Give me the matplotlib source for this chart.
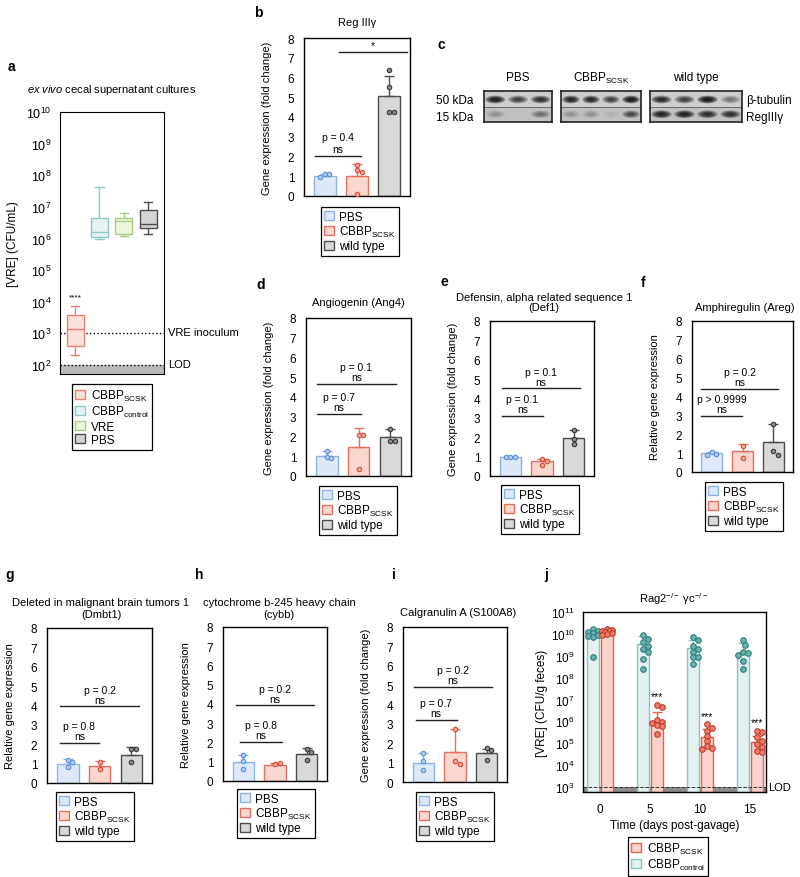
import numpy as np
import matplotlib
matplotlib.use('Agg')
import matplotlib.pyplot as plt
from matplotlib.patches import Patch, Ellipse, Rectangle
from matplotlib.ticker import NullLocator

plt.rcParams['font.family'] = ['Liberation Sans', 'DejaVu Sans']
plt.rcParams['mathtext.fontset'] = 'custom'
plt.rcParams['mathtext.rm'] = 'Liberation Sans'
plt.rcParams['mathtext.it'] = 'Liberation Sans:italic'
plt.rcParams['mathtext.bf'] = 'Liberation Sans:bold'
plt.rcParams['mathtext.sf'] = 'Liberation Sans'

# ------------------------------------------------------------------ data
SCSK = 'CBBP$_{\\mathrm{SCSK}}$'
CTRL = 'CBBP$_{\\mathrm{control}}$'
groups = ['PBS', SCSK, 'wild type']

# panel a (box plot, CFU/mL)
a_labels = [SCSK, CTRL, 'VRE', 'PBS']
a_median = [1.35e3, 1.6e6, 3.5e6, 2.9e6]
a_q1 = [4.0e2, 1.15e6, 1.4e6, 2.1e6]
a_q3 = [3.7e3, 4.6e6, 4.6e6, 7.8e6]
a_whislo = [2.1e2, 1.0e6, 1.2e6, 1.4e6]
a_whishi = [7.4e3, 4.4e7, 6.2e6, 1.4e7]
a_inoculum = 1e3
a_lod = 1e2
a_star_y = 1.4e4

# panel b  Reg IIIγ
b_mean = [1.0, 1.03, 5.05]
b_top = [1.1, 1.6, 6.1]
b_pbs = [1.1, 1.1, 0.95]
b_scsk = [1.55, 1.3, 1.2, 0.1]
b_wt = [6.4, 5.5, 4.25, 4.25]
b_sig_y = [2.04, 7.3]
b_sig_txt = ['p = 0.4\nns', '*']

# panel c  western blot band intensities (0..1)
c_tub_pbs = [0.9, 0.6, 0.75]
c_reg_pbs = [0.15, 0.0, 0.3]
c_tub_scsk = [0.85, 0.8, 0.6, 0.95]
c_reg_scsk = [0.15, 0.15, 0.05, 0.5]
c_tub_wt = [0.8, 0.6, 0.95, 0.3]
c_reg_wt = [0.85, 0.85, 0.75, 0.7]

# panel d  Ang4
d_mean = [1.0, 1.47, 1.95]
d_top = [1.25, 2.45, 2.36]
d_pbs = [1.25, 0.96, 0.93]
d_scsk = [2.1, 2.1, 0.37]
d_wt = [2.36, 1.78, 1.78]
d_sig_y = [4.66, 3.14]
d_sig_txt = ['p = 0.1\nns', 'p = 0.7\nns']

# panel e  Def1
e_mean = [0.98, 0.75, 1.96]
e_top = [1.02, 0.88, 2.35]
e_pbs = [1.0, 0.99, 0.98]
e_scsk = [0.86, 0.8, 0.55]
e_wt = [2.35, 1.93, 1.65]
e_sig_y = [4.53, 3.12]
e_sig_txt = ['p = 0.1\nns', 'p = 0.1\nns']

# panel f  Areg
f_mean = [1.0, 1.1, 1.6]
f_top = [1.05, 1.5, 2.55]
f_pbs = [1.08, 0.98, 0.88]
f_scsk = [1.4, 0.75]
f_wt = [2.55, 1.12, 0.92]
f_sig_y = [4.41, 2.96]
f_sig_txt = ['p = 0.2\nns', 'p > 0.9999\nns']

# panel g  Dmbt1
g_mean = [0.98, 0.86, 1.47]
g_top = [1.22, 1.16, 1.84]
g_pbs = [1.21, 1.1, 0.81]
g_scsk = [1.07, 0.72]
g_wt = [1.78, 1.74, 1.07]
g_sig_y = [3.95, 2.07]
g_sig_txt = ['p = 0.2\nns', 'p = 0.8\nns']

# panel h  cybb
h_mean = [0.99, 0.85, 1.39]
h_top = [1.35, 0.93, 1.73]
h_pbs = [1.33, 1.02, 0.64]
h_scsk = [0.88, 0.93]
h_wt = [1.68, 1.5, 1.07]
h_sig_y = [3.93, 2.03]
h_sig_txt = ['p = 0.2\nns', 'p = 0.8\nns']

# panel i  S100A8
i_mean = [0.99, 1.54, 1.5]
i_top = [1.5, 2.74, 1.72]
i_pbs = [1.5, 1.06, 0.6]
i_scsk = [2.74, 1.06, 0.94]
i_wt = [1.76, 1.63, 1.11]
i_sig_y = [4.92, 3.22]
i_sig_txt = ['p = 0.2\nns', 'p = 0.7\nns']

# panel j  (CFU/g feces)
j_days = [0, 5, 10, 15]
j_ctrl_bar = [1.0e10, 3.5e9, 2.2e9, 1.3e9]
j_ctrl_err = [1.4e10, 8e9, 5.5e9, 4e9]
j_scsk_bar = [1.25e10, 9e5, 2e5, 1.1e5]
j_scsk_err = [1.5e10, 2.8e6, 4.5e5, 2.2e5]
j_ctrl_d0 = [1.6e10, 1.4e10, 1.2e10, 1.1e10, 9e9, 8e9, 7e9, 8.7e8]
j_ctrl_d5 = [9e9, 6e9, 4.2e9, 2.8e9, 2.1e9, 1.5e9, 7e8, 2.5e8]
j_ctrl_d10 = [7e9, 5e9, 2.8e9, 2.1e9, 1.5e9, 9e8, 8.5e8, 4e8]
j_ctrl_d15 = [5e9, 3.2e9, 1.5e9, 1.3e9, 1.1e9, 6e8, 2.5e8]
j_scsk_d0 = [1.6e10, 1.5e10, 1.4e10, 1.3e10, 1.2e10, 1.1e10, 1e10, 9e9]
j_scsk_d5 = [5.5e6, 4.5e6, 1.1e6, 9e5, 8e5, 7e5, 6e5, 2.6e5]
j_scsk_d10 = [7.5e5, 5.2e5, 3.7e5, 2.2e5, 1.3e5, 7.5e4, 6e4, 5.5e4]
j_scsk_d15 = [3.7e5, 3.3e5, 1.9e5, 1.3e5, 9e4, 7e4, 4.5e4, 3.8e4]
j_star_y = [None, 1.5e7, 1.8e6, 9e5]
j_lod = 1e3

# ------------------------------------------------------------------ styles
PBS_C = dict(face='#dde9f9', edge='#8db3e6', dot='#b3cdf1', dotedge='#5d8fd9')
SCSK_C = dict(face='#f9d7cf', edge='#e2705f', dot='#f4a797', dotedge='#d44e3a')
WT_C = dict(face='#d9d9d9', edge='#4d4d4d', dot='#8c8c8c', dotedge='#3a3a3a')
CTRL_A = dict(face='#e5f3f3', edge='#8ccaca')
VRE_A = dict(face='#eef6e2', edge='#a9cc7e')
SCSK_A = dict(face='#fbe1db', edge='#e8806f')
PBS_A = dict(face='#d5d5d5', edge='#4d4d4d')
J_CTRL = dict(face='#e3f1f1', edge='#8cc3c3', dot='#69b3ae', dotedge='#2f7f7a')
J_SCSK = dict(face='#f7d3cb', edge='#e8604f', dot='#ef7f6c', dotedge='#bf3a2a')

W, H = 800, 878
fig = plt.figure(figsize=(W / 100, H / 100), dpi=100)


def add_ax(x0, y0, x1, y1):
    return fig.add_axes([x0 / W, 1 - y1 / H, (x1 - x0) / W, (y1 - y0) / H])


def ftext(x, y, s, **kw):
    return fig.text(x / W, 1 - y / H, s, **kw)


def letter(x, y, s):
    ftext(x, y, s, fontsize=10, fontweight='bold', ha='left', va='center')


def swarm(ypix, d, max_off):
    """deterministic beeswarm offsets (pixels), limited to +-max_off"""
    placed, offs = [], []
    cands = [0.0]
    k = 1
    while k * d * 0.5 <= max_off + 1e-9:
        cands += [k * d * 0.5, -k * d * 0.5]
        k += 1
    for v in ypix:
        best, best_dist = 0.0, -1
        for c in cands:
            md = min([np.hypot(c - px, v - py) for px, py in placed] + [1e9])
            if md >= d:
                best = c
                break
            if md > best_dist:
                best, best_dist = c, md
        placed.append((best, v))
        offs.append(best)
    return np.array(offs)


def make_legend(ax, handles, labels, cx, top, fs=8.5):
    leg = ax.legend(handles, labels, loc='upper center',
                    bbox_to_anchor=(cx / W, 1 - top / H), bbox_transform=fig.transFigure,
                    fontsize=fs, handlelength=0.8, handleheight=0.8, handletextpad=0.5,
                    labelspacing=0.12, borderpad=0.3, borderaxespad=0, fancybox=False,
                    framealpha=1, edgecolor='black')
    leg.get_frame().set_linewidth(0.9)
    return leg


def bar_panel(box, means, tops, pts, sig_y, sig_txt, spans, ylabel, leg_xy, lsp=1.0):
    ax = add_ax(*box)
    xs = np.arange(3)
    cols = [PBS_C, SCSK_C, WT_C]
    wpx = box[2] - box[0]
    hpx = box[3] - box[1]
    xlim = (-0.65, 2.65)
    px_per_x = wpx / (xlim[1] - xlim[0])
    px_per_y = hpx / 8.0
    for k in range(3):
        c = cols[k]
        ax.bar(xs[k], means[k], width=0.68, color=c['face'], edgecolor=c['edge'], lw=1.0, zorder=2)
        ax.errorbar(xs[k], means[k], yerr=[[0], [tops[k] - means[k]]], fmt='none',
                    ecolor=c['edge'], elinewidth=1.0, capsize=3.5, capthick=1.0, zorder=3)
        yp = np.asarray(pts[k]) * px_per_y
        off = swarm(yp, 4.6, 7.0) / px_per_x
        ax.plot(xs[k] + off, pts[k], 'o', ms=3.2, mfc=c['dot'], mec=c['dotedge'], mew=0.8,
                ls='none', zorder=4)
    for (x0, x1), y, t in zip(spans, sig_y, sig_txt):
        ax.plot([x0, x1], [y, y], color='#222222', lw=1.0, zorder=3)
        ax.annotate(t, ((x0 + x1) / 2, y), xytext=(0, 1.2), textcoords='offset points',
                    ha='center', va='bottom', fontsize=7.5, linespacing=lsp)
    ax.set_xlim(*xlim)
    ax.set_ylim(0, 8)
    ax.set_yticks(range(9))
    ax.set_xticks([])
    ax.tick_params(axis='y', length=0, pad=7, labelsize=8.5)
    for sp in ax.spines.values():
        sp.set_linewidth(1.0)
    ax.set_ylabel(ylabel, fontsize=8)
    ax.yaxis.set_label_coords(-32 / wpx, 0.5)
    handles = [Patch(facecolor=c['face'], edgecolor=c['edge'], lw=1.0) for c in cols]
    make_legend(ax, handles, groups, *leg_xy)
    return ax


# ------------------------------------------------------------------ panel a
axa = add_ax(60, 113, 164, 375)
stats = []
for k in range(4):
    stats.append(dict(med=a_median[k], q1=a_q1[k], q3=a_q3[k],
                      whislo=a_whislo[k], whishi=a_whishi[k], fliers=[], label=a_labels[k]))
acols = [SCSK_A, CTRL_A, VRE_A, PBS_A]
bp = axa.bxp(stats, positions=[1, 2, 3, 4], widths=0.7, patch_artist=True, showfliers=False,
             manage_ticks=False)
for k, c in enumerate(acols):
    bp['boxes'][k].set(facecolor=c['face'], edgecolor=c['edge'], lw=1.0, zorder=3)
    bp['medians'][k].set(color=c['edge'], lw=1.0, zorder=4)
    for w in bp['whiskers'][2 * k:2 * k + 2]:
        w.set(color=c['edge'], lw=1.0)
    for cp in bp['caps'][2 * k:2 * k + 2]:
        cp.set(color=c['edge'], lw=1.0)
axa.set_yscale('log')
axa.set_ylim(52, 1e10)
axa.set_xlim(0.38, 4.65)
axa.axhspan(52, a_lod, color='#b9b9b9', zorder=1, lw=0)
axa.axhline(a_lod, color='black', ls=':', lw=1.0, zorder=2)
axa.axhline(a_inoculum, color='black', ls=':', lw=1.0, zorder=2)
axa.set_yticks([10.0 ** k for k in range(2, 11)])
axa.yaxis.set_minor_locator(NullLocator())
axa.set_xticks([])
axa.tick_params(axis='y', length=0, pad=6, labelsize=9)
axa.set_ylabel('[VRE] (CFU/mL)', fontsize=8.5)
axa.yaxis.set_label_coords(-41 / 104, 0.5)
axa.text(1, a_star_y, '****', ha='center', va='center', fontsize=6)
ftext(168, 333, 'VRE inoculum', fontsize=8, va='center')
ftext(168, 365, 'LOD', fontsize=8, va='center')
ftext(112, 90, '$\\mathit{ex\\ vivo}$ cecal supernatant cultures', fontsize=8, ha='center', va='center')
make_legend(axa, [Patch(facecolor=c['face'], edgecolor=c['edge'], lw=1.0) for c in acols],
            a_labels, 112, 385)
letter(8, 67, 'a')

# ------------------------------------------------------------------ panel b
bar_panel((304, 39, 410, 197), b_mean, b_top, [b_pbs, b_scsk, b_wt], b_sig_y, b_sig_txt,
          [(-0.3, 1.13), (0.44, 2.55)], 'Gene expression (fold change)', (360, 208), lsp=1.25)
ftext(357, 23, 'Reg IIIγ', fontsize=8, ha='center', va='center')
letter(254, 13, 'b')


# ------------------------------------------------------------------ panel c (blot)
def blot(box, tub, reg):
    ax = add_ax(*box)
    n = len(tub)
    ax.set_xlim(0, n)
    ax.set_ylim(0, 2)
    ax.add_patch(Rectangle((0, 1), n, 1, color='#cdcdcd', zorder=0, lw=0))
    ax.add_patch(Rectangle((0, 0), n, 1, color='#c0c0c0', zorder=0, lw=0))
    ax.axhline(1, color='#6b6b6b', lw=0.7)
    for row_y, vals in ((1.45, tub), (0.5, reg)):
        for k, v in enumerate(vals):
            if v <= 0:
                continue
            for s in np.linspace(1.0, 0.35, 5):
                ax.add_patch(Ellipse((k + 0.5, row_y), 0.88 * s, 0.5 * s, color='black',
                                     alpha=min(1, v * 0.33), lw=0))
    ax.set_xticks([])
    ax.set_yticks([])
    for sp in ax.spines.values():
        sp.set_linewidth(1.2)
        sp.set_color('#222222')
    return ax


blot((484, 92, 552, 123), c_tub_pbs, c_reg_pbs)
blot((561, 92, 641, 123), c_tub_scsk, c_reg_scsk)
blot((650, 92, 742, 123), c_tub_wt, c_reg_wt)
ftext(518, 78, groups[0], fontsize=8.5, ha='center', va='center')
ftext(601, 78, groups[1], fontsize=8.5, ha='center', va='center')
ftext(696, 78, groups[2], fontsize=8.5, ha='center', va='center')
ftext(436, 101, '50 kDa', fontsize=8.5, ha='left', va='center')
ftext(436, 118, '15 kDa', fontsize=8.5, ha='left', va='center')
ftext(746, 101, 'β-tubulin', fontsize=8.5, ha='left', va='center')
ftext(746, 118, 'RegIIIγ', fontsize=8.5, ha='left', va='center')
letter(438, 45, 'c')

# ------------------------------------------------------------------ panels d, e, f
bar_panel((306, 319, 411, 477), d_mean, d_top, [d_pbs, d_scsk, d_wt], d_sig_y, d_sig_txt,
          [(-0.32, 2.19), (-0.32, 1.08)], 'Gene expression (fold change)', (358, 487))
ftext(358, 303, 'Angiogenin (Ang4)', fontsize=8, ha='center', va='center')
letter(256, 285, 'd')

bar_panel((490, 322, 594, 477), e_mean, e_top, [e_pbs, e_scsk, e_wt], e_sig_y, e_sig_txt,
          [(-0.27, 2.2), (-0.27, 1.03)], 'Gene expression (fold change)', (540, 486))
ftext(544, 303, 'Defensin, alpha related sequence 1\n(Def1)', fontsize=8, ha='center',
      va='center', linespacing=1.12)
letter(440, 282, 'e')

bar_panel((692, 322, 793, 473), f_mean, f_top, [f_pbs, f_scsk, f_wt], f_sig_y, f_sig_txt,
          [(-0.34, 2.15), (-0.34, 0.99)], 'Relative gene expression', (744, 483))
ftext(745, 308, 'Amphiregulin (Areg)', fontsize=8, ha='center', va='center')
letter(641, 283, 'f')

# ------------------------------------------------------------------ panels g, h, i
bar_panel((47, 629, 152, 784), g_mean, g_top, [g_pbs, g_scsk, g_wt], g_sig_y, g_sig_txt,
          [(-0.25, 2.25), (-0.25, 0.98)], 'Relative gene expression', (95, 793))
ftext(101, 609, 'Deleted in malignant brain tumors 1\n(Dmbt1)', fontsize=8, ha='center',
      va='center', linespacing=1.15)
letter(5, 575, 'g')

bar_panel((223, 628, 327, 782), h_mean, h_top, [h_pbs, h_scsk, h_wt], h_sig_y, h_sig_txt,
          [(-0.25, 2.25), (-0.12, 1.21)], 'Relative gene expression', (276, 790))
ftext(279, 609, 'cytochrome b-245 heavy chain\n(cybb)', fontsize=8, ha='center',
      va='center', linespacing=1.15)
letter(195, 575, 'h')

bar_panel((403, 628, 507, 783), i_mean, i_top, [i_pbs, i_scsk, i_wt], i_sig_y, i_sig_txt,
          [(-0.3, 2.18), (-0.25, 1.05)], 'Gene expression (fold change)', (455, 793))
ftext(458, 613, 'Calgranulin A (S100A8)', fontsize=8, ha='center', va='center')
letter(392, 575, 'i')

# ------------------------------------------------------------------ panel j
jbox = (583, 613, 766, 793)
axj = add_ax(*jbox)
ylo = 10 ** 2.77
axj.set_yscale('log')
axj.set_ylim(ylo, 1e11)
axj.set_xlim(-1.7, 16.6)
days = np.array(j_days, float)
px_per_day = (jbox[2] - jbox[0]) / (16.6 + 1.7)
px_per_dec = (jbox[3] - jbox[1]) / (11 - 2.77)
axj.axhspan(ylo, j_lod, color='#8e8e8e', zorder=1, lw=0)
ctrl_pts = [j_ctrl_d0, j_ctrl_d5, j_ctrl_d10, j_ctrl_d15]
scsk_pts = [j_scsk_d0, j_scsk_d5, j_scsk_d10, j_scsk_d15]
for xs_, bars, errs, pts, c in ((days - 0.7, j_ctrl_bar, j_ctrl_err, ctrl_pts, J_CTRL),
                                (days + 0.7, j_scsk_bar, j_scsk_err, scsk_pts, J_SCSK)):
    bars = np.array(bars)
    axj.bar(xs_, bars - ylo, bottom=ylo, width=1.2, color=c['face'], edgecolor=c['edge'],
            lw=1.0, zorder=2)
    axj.errorbar(xs_, bars, yerr=[np.zeros(4), np.array(errs) - bars], fmt='none',
                 ecolor=c['edge'], elinewidth=1.0, capsize=3.5, capthick=1.0, zorder=3)
    for k in range(4):
        yp = np.log10(pts[k]) * px_per_dec
        off = swarm(yp, 4.6, 5.0) / px_per_day
        axj.plot(xs_[k] + off, pts[k], 'o', ms=4.0, mfc=c['dot'], mec=c['dotedge'], mew=0.8,
                 ls='none', zorder=4)
axj.axhline(j_lod, color='#333333', ls='--', lw=0.7, zorder=3)
for k in range(4):
    if j_star_y[k] is not None:
        axj.text(days[k] + 0.7, j_star_y[k], '***', ha='center', va='center', fontsize=7.5)
axj.set_yticks([10.0 ** k for k in range(3, 12)])
axj.yaxis.set_minor_locator(NullLocator())
axj.set_xticks(j_days)
axj.tick_params(axis='both', length=0, labelsize=8.5)
axj.tick_params(axis='y', pad=6)
axj.tick_params(axis='x', pad=8)
for sp in axj.spines.values():
    sp.set_linewidth(1.0)
axj.set_xlabel('Time (days post-gavage)', fontsize=8.5, labelpad=3)
axj.set_ylabel('[VRE] (CFU/g feces)', fontsize=8.5)
axj.yaxis.set_label_coords(-35 / 183, 0.5)
ftext(768, 788, 'LOD', fontsize=8, va='center')
ftext(674, 599, 'Rag2$^{\\mathrm{-/-}}$ γc$^{\\mathrm{-/-}}$', fontsize=8, ha='center', va='center')
make_legend(axj, [Patch(facecolor=J_SCSK['face'], edgecolor=J_SCSK['edge'], lw=1.0),
                  Patch(facecolor=J_CTRL['face'], edgecolor=J_CTRL['edge'], lw=1.0)],
            [SCSK, CTRL], 668, 838)
letter(544, 575, 'j')

fig.savefig('out.png', dpi=100)
